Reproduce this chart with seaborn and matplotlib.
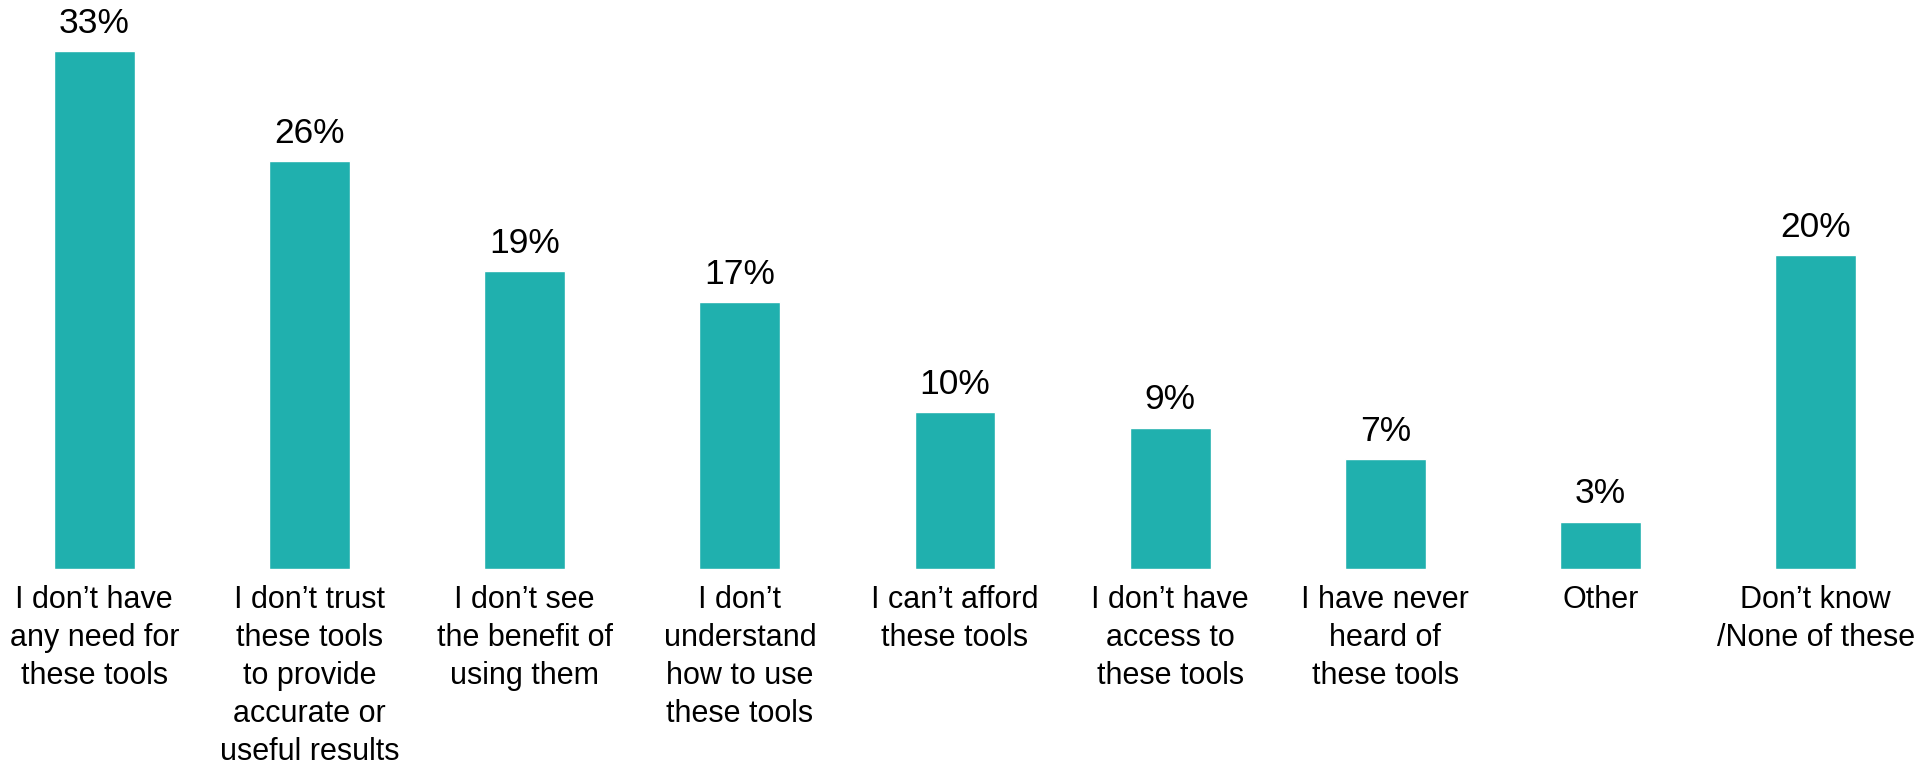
import matplotlib
matplotlib.use("Agg")
import matplotlib.pyplot as plt
import seaborn as sns
import pandas as pd

categories = [
    "I don\u2019t have\nany need for\nthese tools",
    "I don\u2019t trust\nthese tools\nto provide\naccurate or\nuseful results",
    "I don\u2019t see\nthe benefit of\nusing them",
    "I don\u2019t\nunderstand\nhow to use\nthese tools",
    "I can\u2019t afford\nthese tools",
    "I don\u2019t have\naccess to\nthese tools",
    "I have never\nheard of\nthese tools",
    "Other",
    "Don\u2019t know\n/None of these",
]
values = [33, 26, 19, 17, 10, 9, 7, 3, 20]

df = pd.DataFrame({"reason": categories, "pct": values})

sns.set_theme(style="white")
plt.rcParams["font.family"] = ["Liberation Sans", "DejaVu Sans"]

fig = plt.figure(figsize=(19.21, 7.66), dpi=100)
ax = fig.add_axes([0.00427, 0.2578, 0.98573, 0.675])

sns.barplot(data=df, x="reason", y="pct", color="#20B0AE", saturation=1,
            width=0.375, ax=ax)

ax.set_xlim(-0.4, 8.4)
ax.set_ylim(0, 33)
labels = [f"{v}%" for v in values]
ax.bar_label(ax.containers[0], labels=labels, padding=8.0, fontsize=25.5,
             color="black")
ax.set_xlabel("")
ax.set_ylabel("")
ax.set_yticks([])
ax.tick_params(axis="x", length=0, pad=12, labelsize=22, labelcolor="black")
for lab in ax.get_xticklabels():
    lab.set_linespacing(1.35)
for s in ax.spines.values():
    s.set_visible(False)

fig.savefig("out.png", dpi=100, facecolor="white")
